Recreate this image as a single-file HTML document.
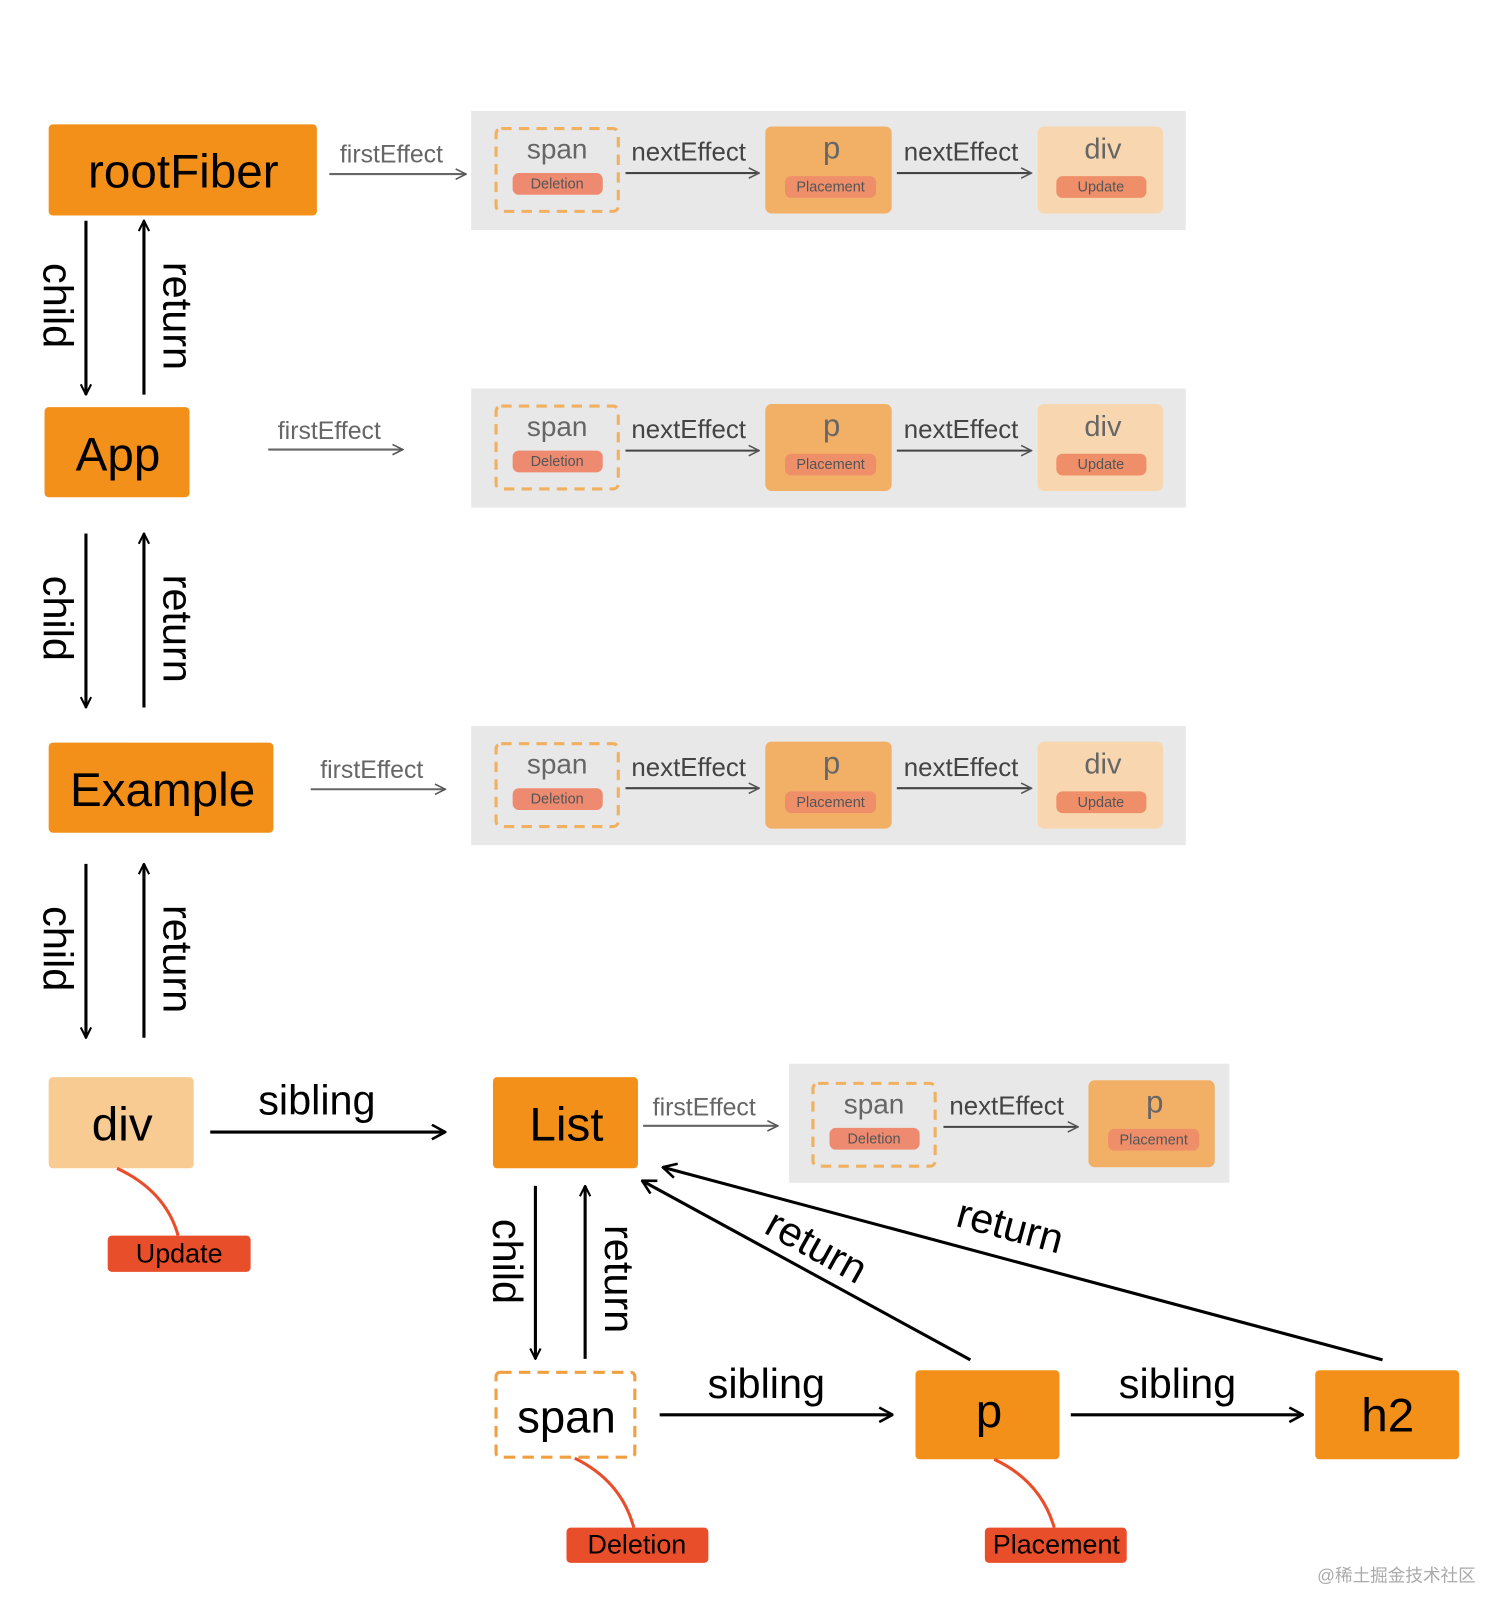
<!DOCTYPE html>
<html><head><meta charset="utf-8"><style>html,body{margin:0;padding:0;background:#fff}svg{display:block}</style></head><body>
<svg width="1512" height="1622" viewBox="0 0 1460 1566" xmlns="http://www.w3.org/2000/svg" font-family="'Liberation Sans','DejaVu Sans',sans-serif">
<defs>
<marker id="ab" viewBox="0 0 12 12" refX="11" refY="6" markerWidth="12" markerHeight="12" markerUnits="userSpaceOnUse" orient="auto"><polyline points="1,1 11,6 1,11" fill="none" stroke="#000" stroke-width="2"/></marker>
<marker id="ab2" viewBox="0 0 16 16" refX="15" refY="8" markerWidth="16" markerHeight="16" markerUnits="userSpaceOnUse" orient="auto"><polyline points="2,1 15,8 2,15" fill="none" stroke="#000" stroke-width="2.5"/></marker>
<marker id="ag" viewBox="0 0 12 12" refX="11" refY="6" markerWidth="12" markerHeight="12" markerUnits="userSpaceOnUse" orient="auto"><polyline points="1,1 11,6 1,11" fill="none" stroke="#555" stroke-width="1.5"/></marker>
<g id="panel">
<rect x="455" y="107" width="690" height="115" fill="#e8e8e8"/>
<rect x="479" y="124" width="118" height="80" rx="5" fill="none" stroke="#f0b060" stroke-width="3" stroke-dasharray="10,7"/>
<text x="538" y="153" font-size="27" fill="#666" text-anchor="middle">span</text>
<rect x="495" y="167" width="87" height="21" rx="6" fill="#ee8a70"/>
<text x="538" y="182" font-size="14" fill="#555" text-anchor="middle">Deletion</text>
<text x="665" y="155" font-size="25" fill="#444" text-anchor="middle">nextEffect</text>
<line x1="604" y1="167" x2="733" y2="167" stroke="#444" stroke-width="2" marker-end="url(#ag)"/>
<rect x="739" y="122" width="122" height="84" rx="6" fill="#f2b066"/>
<text x="803" y="153" font-size="30" fill="#666" text-anchor="middle">p</text>
<rect x="758" y="170" width="88" height="21" rx="6" fill="#ef8f6a"/>
<text x="802" y="185" font-size="14" fill="#555" text-anchor="middle">Placement</text>
<text x="928" y="155" font-size="25" fill="#444" text-anchor="middle">nextEffect</text>
<line x1="866" y1="167" x2="996" y2="167" stroke="#444" stroke-width="2" marker-end="url(#ag)"/>
<rect x="1002" y="122" width="121" height="84" rx="6" fill="#f8d7b0"/>
<text x="1065" y="153" font-size="28" fill="#666" text-anchor="middle">div</text>
<rect x="1020" y="170" width="87" height="21" rx="6" fill="#ef8f6a"/>
<text x="1063" y="185" font-size="14" fill="#555" text-anchor="middle">Update</text>
</g>
<g id="cr">
<line x1="83" y1="213" x2="83" y2="381" stroke="#000" stroke-width="3" marker-end="url(#ab)"/>
<line x1="139" y1="381" x2="139" y2="213" stroke="#000" stroke-width="3" marker-end="url(#ab)"/>
<text transform="translate(42,295) rotate(90)" font-size="40" text-anchor="middle">child</text>
<text transform="translate(158,305) rotate(90)" font-size="40" text-anchor="middle">return</text>
</g>
</defs>
<use href="#panel"/>
<use href="#panel" y="268"/>
<use href="#panel" y="594"/>
<use href="#cr"/>
<use href="#cr" y="302"/>
<use href="#cr" y="621"/>

<rect x="47" y="120" width="259" height="88" rx="4" fill="#f39019"/>
<text x="177" y="181" font-size="46" text-anchor="middle">rootFiber</text>
<text x="378" y="157" font-size="24" fill="#666" text-anchor="middle">firstEffect</text>
<line x1="318" y1="168" x2="450" y2="168" stroke="#666" stroke-width="2" marker-end="url(#ag)"/>

<rect x="43" y="393" width="140" height="87" rx="4" fill="#f39019"/>
<text x="114" y="454" font-size="46" text-anchor="middle">App</text>
<text x="318" y="424" font-size="24" fill="#666" text-anchor="middle">firstEffect</text>
<line x1="259" y1="434" x2="389" y2="434" stroke="#666" stroke-width="2" marker-end="url(#ag)"/>

<rect x="47" y="717" width="217" height="87" rx="4" fill="#f39019"/>
<text x="157" y="778" font-size="46" text-anchor="middle">Example</text>
<text x="359" y="751" font-size="24" fill="#666" text-anchor="middle">firstEffect</text>
<line x1="300" y1="762" x2="430" y2="762" stroke="#666" stroke-width="2" marker-end="url(#ag)"/>

<rect x="47" y="1040" width="140" height="88" rx="4" fill="#f8cb93"/>
<text x="118" y="1101" font-size="46" text-anchor="middle">div</text>
<path d="M113,1128 Q160,1150 172,1193" fill="none" stroke="#e94e2a" stroke-width="3"/>
<rect x="104" y="1193" width="138" height="35" rx="4" fill="#e94e2a"/>
<text x="173" y="1219" font-size="26" text-anchor="middle">Update</text>
<text x="306" y="1076" font-size="40" text-anchor="middle">sibling</text>
<line x1="203" y1="1093" x2="430" y2="1093" stroke="#000" stroke-width="3" marker-end="url(#ab2)"/>

<rect x="476" y="1040" width="140" height="88" rx="4" fill="#f39019"/>
<text x="547" y="1101" font-size="46" text-anchor="middle">List</text>
<text x="680" y="1077" font-size="24" fill="#666" text-anchor="middle">firstEffect</text>
<line x1="621" y1="1087" x2="751" y2="1087" stroke="#666" stroke-width="2" marker-end="url(#ag)"/>
<rect x="762" y="1027" width="425" height="115" fill="#e8e8e8"/>
<rect x="785" y="1046" width="118" height="80" rx="5" fill="none" stroke="#f0b060" stroke-width="3" stroke-dasharray="10,7"/>
<text x="844" y="1075" font-size="27" fill="#666" text-anchor="middle">span</text>
<rect x="801" y="1089" width="87" height="21" rx="6" fill="#ee8a70"/>
<text x="844" y="1104" font-size="14" fill="#555" text-anchor="middle">Deletion</text>
<text x="972" y="1076" font-size="25" fill="#444" text-anchor="middle">nextEffect</text>
<line x1="911" y1="1088" x2="1041" y2="1088" stroke="#444" stroke-width="2" marker-end="url(#ag)"/>
<rect x="1051" y="1043" width="122" height="84" rx="6" fill="#f2b066"/>
<text x="1115" y="1074" font-size="30" fill="#666" text-anchor="middle">p</text>
<rect x="1070" y="1090" width="88" height="21" rx="6" fill="#ef8f6a"/>
<text x="1114" y="1105" font-size="14" fill="#555" text-anchor="middle">Placement</text>

<line x1="517" y1="1145" x2="517" y2="1312" stroke="#000" stroke-width="3" marker-end="url(#ab)"/>
<line x1="565" y1="1312" x2="565" y2="1145" stroke="#000" stroke-width="3" marker-end="url(#ab)"/>
<text transform="translate(476,1218) rotate(90)" font-size="40" text-anchor="middle">child</text>
<text transform="translate(584,1235) rotate(90)" font-size="40" text-anchor="middle">return</text>

<rect x="479" y="1325" width="134" height="82" rx="4" fill="#fff" stroke="#f0a040" stroke-width="3" stroke-dasharray="11,7"/>
<text x="547" y="1383" font-size="44" text-anchor="middle">span</text>
<path d="M555,1408 Q600,1430 612,1475" fill="none" stroke="#e94e2a" stroke-width="3"/>
<rect x="547" y="1475" width="137" height="34" rx="4" fill="#e94e2a"/>
<text x="615" y="1500" font-size="26" text-anchor="middle">Deletion</text>

<text x="740" y="1350" font-size="40" text-anchor="middle">sibling</text>
<line x1="637" y1="1366" x2="862" y2="1366" stroke="#000" stroke-width="3" marker-end="url(#ab2)"/>
<rect x="884" y="1323" width="139" height="86" rx="4" fill="#f39019"/>
<text x="955" y="1378" font-size="46" text-anchor="middle">p</text>
<path d="M960,1409 Q1005,1430 1018,1475" fill="none" stroke="#e94e2a" stroke-width="3"/>
<rect x="951" y="1475" width="137" height="34" rx="4" fill="#e94e2a"/>
<text x="1020" y="1500" font-size="26" text-anchor="middle">Placement</text>

<text x="1137" y="1350" font-size="40" text-anchor="middle">sibling</text>
<line x1="1034" y1="1366" x2="1258" y2="1366" stroke="#000" stroke-width="3" marker-end="url(#ab2)"/>
<rect x="1270" y="1323" width="139" height="86" rx="4" fill="#f39019"/>
<text x="1340" y="1382" font-size="46" text-anchor="middle">h2</text>

<line x1="937" y1="1313" x2="620" y2="1140" stroke="#000" stroke-width="3" marker-end="url(#ab2)"/>
<line x1="1335" y1="1313" x2="640" y2="1127" stroke="#000" stroke-width="3" marker-end="url(#ab2)"/>
<text transform="translate(782,1215) rotate(29)" font-size="40" text-anchor="middle">return</text>
<text transform="translate(972,1197) rotate(15)" font-size="40" text-anchor="middle">return</text>

<text x="1425" y="1527" font-size="17" fill="#aaa" text-anchor="end" font-family="'Liberation Sans','Noto Sans CJK SC',sans-serif">@稀土掘金技术社区</text>
</svg>
</body></html>
